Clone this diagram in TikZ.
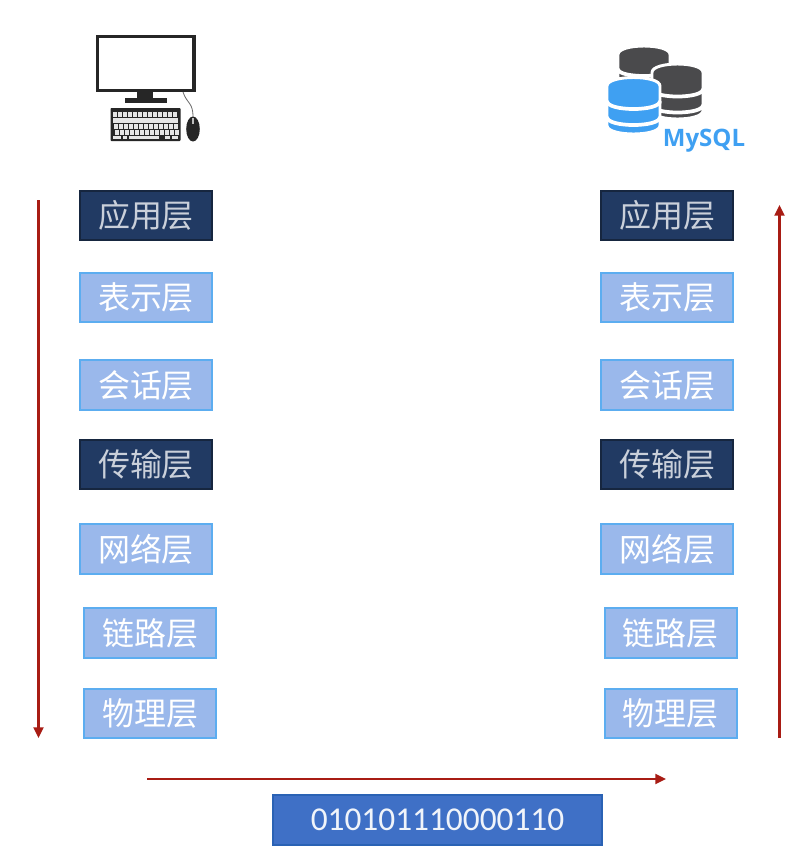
\documentclass[tikz,border=0pt]{standalone}
\usepackage{fontspec}
\setmainfont{Open Sans}
\newfontfamily\cjk{Noto Sans CJK SC}
\newfontfamily\bitsfont{Carlito}
\usetikzlibrary{arrows.meta}
\definecolor{darkbox}{HTML}{213A63}
\definecolor{darkedge}{HTML}{16263F}
\definecolor{lightbox}{HTML}{9AB8EB}
\definecolor{lightedge}{HTML}{5CADF0}
\definecolor{arrowred}{HTML}{A81C14}
\definecolor{bitbox}{HTML}{3F70C6}
\definecolor{bitedge}{HTML}{2A62B4}
\definecolor{dbgray}{HTML}{4A4A4C}
\definecolor{dbblue}{HTML}{3FA0F2}
\definecolor{iconblack}{HTML}{262626}
\tikzset{
  layerbase/.style={minimum width=99pt,minimum height=37pt,inner sep=0pt,line width=1.5pt,font=\cjk\fontsize{24}{26}\selectfont},
  darklayer/.style={layerbase,draw=darkedge,fill=darkbox,text=white!76!darkbox},
  lightlayer/.style={layerbase,draw=lightedge,fill=lightbox,text=white},
  flow/.style={draw=arrowred,line width=1.6pt,-{Triangle[length=8pt,width=7.5pt]}},
  bitsbox/.style={draw=bitedge,line width=1.5pt,fill=bitbox,text=white!92!bitbox,minimum width=247pt,minimum height=37pt,inner sep=0pt,font=\bitsfont\fontsize{25}{28}\selectfont},
  mysqltext/.style={text=dbblue,inner sep=0pt,font=\bfseries\fontsize{18}{20}\selectfont},
}
% cylinder: left x, right x, top-cap centre y, bottom-edge y at the sides, half-height of ellipse, colour
\newcommand{\dbbody}[6]{%
  \draw[white,line width=2.2pt,fill=#6] (#1,#3)
    .. controls (#1,#3-#5*1.333) and (#2,#3-#5*1.333) .. (#2,#3)
    -- (#2,#4)
    .. controls (#2,#4+#5*1.333) and (#1,#4+#5*1.333) .. (#1,#4) -- cycle;
}
% separator band: left x, right x, y at the sides, half-height of ellipse
\newcommand{\dbband}[4]{%
  \draw[white,line width=2.8pt] (#1,#3) .. controls (#1,#3+#4*1.333) and (#2,#3+#4*1.333) .. (#2,#3);
}
\begin{document}
\begin{tikzpicture}[x=0.75pt,y=-0.75pt]
\useasboundingbox (0,0) rectangle (801,854);
\fill[white] (0,0) rectangle (801,854);
% computer icon
\draw[iconblack,line width=2.6pt,fill=white] (97.5,36.5) rectangle (194,90.5);
\fill[iconblack] (137,92) rectangle (153,98);
\fill[iconblack] (125,98) rectangle (167,102.5);
\draw[iconblack!70,line width=0.6pt] (183,92) .. controls (187,104) and (193,102) .. (193,117);
\fill[iconblack,rounded corners=0.6pt] (110.5,108) rectangle (180.5,141);
\foreach \r/\yy in {0/112,1/118,2/124,3/130}{
  \foreach \c in {0,...,12}{
    \fill[white!90!black] ({112.5+\c*5+\r*0.8},\yy) rectangle ++(4.2,4.8);
  }
}
\fill[white!90!black] (113,135.5) rectangle ++(8,3.8);
\fill[white!90!black] (123,135.5) rectangle ++(4,3.8);
\fill[white!90!black] (129,135.5) rectangle ++(30,3.8);
\fill[white!90!black] (165,135.5) rectangle ++(5,3.8);
\fill[white!90!black] (172,135.5) rectangle ++(6,3.8);
\fill[iconblack] (193,129) ellipse[x radius=6.8,y radius=12.5];
\fill[white!75!black] (191.7,118) rectangle (194.3,124);
% database icon
\dbbody{618}{670}{54.5}{100}{8.5}{dbgray}
\dbband{618}{670}{69}{7}
\dbbody{652}{703}{72.5}{110.5}{8.5}{dbgray}
\dbband{652}{703}{89}{7.5}
\dbband{652}{703}{105}{7.5}
\dbbody{607}{660}{86}{125.5}{8.5}{dbblue}
\dbband{607}{660}{101}{8}
\dbband{607}{660}{117}{8}
\node[mysqltext] (mysql) at (704,141) {MySQL};
% left column
\node[darklayer]  (la) at (146,215.5) {应用层};
\node[lightlayer] (lp) at (146,297.5) {表示层};
\node[lightlayer] (ls) at (146,385) {会话层};
\node[darklayer]  (lt) at (146,464.5) {传输层};
\node[lightlayer] (ln) at (146,549) {网络层};
\node[lightlayer] (ld) at (150,633) {链路层};
\node[lightlayer] (lh) at (150,713.5) {物理层};
% right column
\node[darklayer]  (ra) at (667,215.5) {应用层};
\node[lightlayer] (rp) at (667,297.5) {表示层};
\node[lightlayer] (rs) at (667,385) {会话层};
\node[darklayer]  (rt) at (667,464.5) {传输层};
\node[lightlayer] (rn) at (667,549) {网络层};
\node[lightlayer] (rd) at (670.5,633) {链路层};
\node[lightlayer] (rh) at (670.5,713.5) {物理层};
% bits
\node[bitsbox] (bits) at (437.5,820) {010101110000110};
% arrows
\coordinate (downs) at (38.5,200);
\coordinate (downe) at (38.5,738);
\coordinate (ups) at (779.5,738);
\coordinate (upe) at (779.5,205);
\coordinate (acrosss) at (147,779);
\coordinate (acrosse) at (666,779);
\draw[flow] (downs) -- (downe);
\draw[flow] (ups) -- (upe);
\draw[flow] (acrosss) -- (acrosse);
\end{tikzpicture}
\end{document}
